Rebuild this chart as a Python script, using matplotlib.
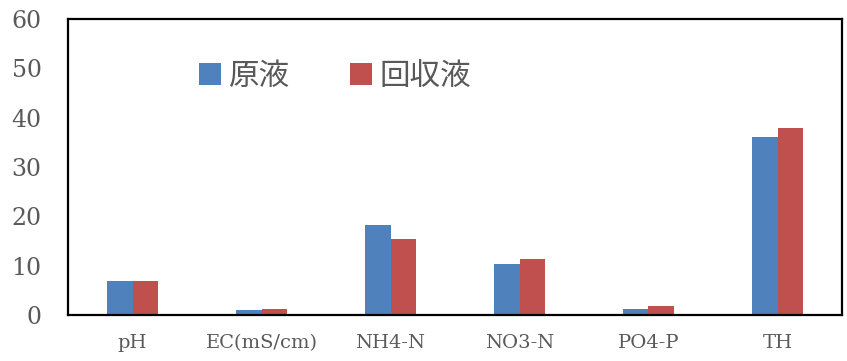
import matplotlib
matplotlib.use("Agg")
import matplotlib.pyplot as plt
import numpy as np
from matplotlib.patches import Patch

categories = ["pH", "EC(mS/cm)", "NH4-N", "NO3-N", "PO4-P", "TH"]
series_names = ["原液", "回収液"]
raw_values = [6.8, 1.0, 18.3, 10.3, 1.15, 36.0]
recovered_values = [6.8, 1.3, 15.4, 11.4, 1.8, 37.9]
y_ticks = [0, 10, 20, 30, 40, 50, 60]

colors = ["#4F81BD", "#C0504D"]
text_gray = "#595959"
serif = ["DejaVu Serif"]
cjk = ["Noto Sans CJK JP", "DejaVu Sans"]

fig = plt.figure(figsize=(8.47, 3.61), dpi=100)
ax = fig.add_axes([68 / 847, 46 / 361, (842 - 68) / 847, (315 - 19) / 361])

x = np.arange(len(categories))
w = 0.2
ax.bar(x - w / 2, raw_values, width=w, color=colors[0], linewidth=0, zorder=2)
ax.bar(x + w / 2, recovered_values, width=w, color=colors[1], linewidth=0, zorder=2)

ax.set_xlim(-0.5, len(categories) - 0.5)
ax.set_ylim(0, 60)
ax.set_yticks(y_ticks)
ax.set_yticklabels([str(v) for v in y_ticks], family=serif, fontsize=17, color=text_gray)
ax.set_xticks(x)
ax.set_xticklabels(categories, family=serif, fontsize=14, color=text_gray)
ax.tick_params(axis="both", length=0)
ax.tick_params(axis="y", pad=19)
ax.tick_params(axis="x", pad=14)

for s in ax.spines.values():
    s.set_linewidth(1.6)
    s.set_color("black")
    s.set_zorder(3)

handles = [Patch(facecolor=c, edgecolor="none") for c in colors]
ax.legend(handles, series_names, loc="center left", bbox_to_anchor=(0.169, 0.807),
          ncol=2, frameon=False, prop={"family": cjk, "size": 22},
          labelcolor=text_gray, handlelength=0.72, handleheight=0.72,
          handletextpad=0.27, columnspacing=1.95, borderpad=0, borderaxespad=0)

fig.savefig("out.png", dpi=100)
